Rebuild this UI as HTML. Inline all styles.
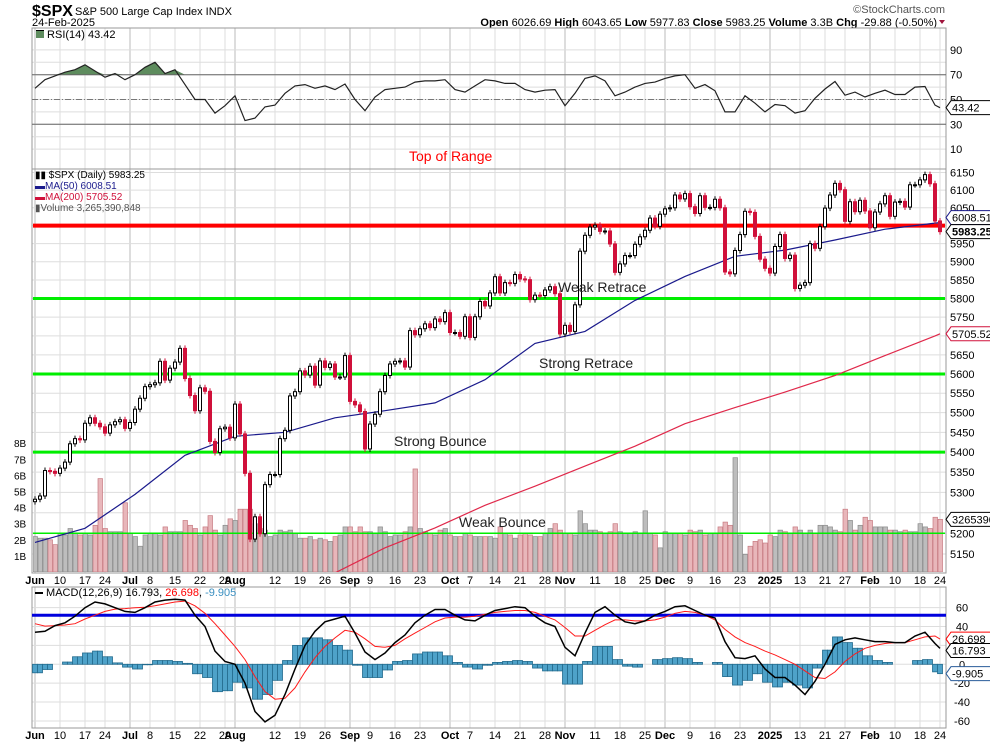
<!DOCTYPE html>
<html><head><meta charset="utf-8">
<style>
html,body{margin:0;padding:0;background:#fff;}
svg{display:block;font-family:"Liberation Sans",Arial,sans-serif;}
</style></head>
<body>
<svg id="chart" width="990" height="744" viewBox="0 0 990 744" xmlns="http://www.w3.org/2000/svg">
<rect x="0" y="0" width="990" height="744" fill="#fff"/>
<g>
<text x="32" y="16" font-size="16" font-weight="bold" fill="#000">$SPX</text>
<text x="75" y="15" font-size="11" fill="#000">S&amp;P 500 Large Cap Index  INDX</text>
<text x="32" y="26" font-size="11" fill="#000">24-Feb-2025</text>
<text x="945" y="13" font-size="11" fill="#555" text-anchor="end">©StockCharts.com</text>
<text x="937" y="26" font-size="11" fill="#000" text-anchor="end"><tspan font-weight="bold">Open</tspan> 6026.69  <tspan font-weight="bold">High</tspan> 6043.65  <tspan font-weight="bold">Low</tspan> 5977.83  <tspan font-weight="bold">Close</tspan> 5983.25  <tspan font-weight="bold">Volume</tspan> 3.3B  <tspan font-weight="bold">Chg</tspan> -29.88 (-0.50%)</text>
<polygon points="939,20 945,20 942,24" fill="#a0143c"/>
</g>
<g id="grid"></g>
<g id="panels"></g>
<defs><clipPath id="priceClip"><rect x="33" y="170" width="912" height="402"/></clipPath></defs>
<g id="vol" clip-path="url(#priceClip)"></g>
<g id="price" clip-path="url(#priceClip)"></g>
<g id="rsi"></g>
<g id="macd"></g>
<g id="annot"></g>
<g id="axes"></g>
</svg>
<script>
// ---------- data ----------
const closes = [
5283,5291,5354,5352,5347, 5360,5375,5421,5434,5431, 5473,5487,5473,5464,
5448,5469,5477,5482,5460, 5475,5509,5537,5567, 5572,5577,5633,5584,5615,
5631,5667,5588,5544,5505, 5564,5555,5427,5399,5459, 5463,5436,5522,5446,5347,
5186,5240,5199,5319,5344, 5344,5434,5455,5543,5554, 5608,5597,5620,5571,5634,
5617,5626,5592,5592,5648, 5529,5520,5503,5408, 5471,5496,5554,5596,5626,
5633,5634,5618,5714,5703, 5719,5732,5722,5745,5738, 5762,5709,5709,5699,5751,
5696,5751,5792,5780,5815, 5859,5815,5843,5841,5865, 5853,5851,5797,5809,5808,
5823,5832,5813,5705,5728, 5712,5783,5929,5973,5996, 6001,5984,5985,5949,5871,
5894,5917,5917,5948,5969, 5987,6021,5998,6032, 6047,6050,6086,6075,6090,
6053,6034,6084,6051,6051, 6074,6050,5872,5867,5931, 5975,6040,6037,5970,
5907,5882,5869,5942, 5975,5909,5918,5827, 5836,5843,5950,5937,5997,
6049,6086,6119,6101, 6012,6067,6039,6071,6041, 5994,6038,6061,6084,6026,
6066,6068,6052,6115,6115, 6129,6144,6118,6013, 5983.25];
const volumes = [
2.2,2.1,2.1,2.0,1.7, 2.4,2.3,2.7,2.4,2.3, 2.4,2.3,2.9,5.8,
2.7,2.5,2.5,2.5,4.3, 2.4,2.2,1.6,2.3, 2.4,2.4,2.3,2.8,2.5,
2.5,2.5,3.2,2.9,2.7, 2.3,2.8,3.5,2.6,2.3, 2.9,3.3,3.2,3.9,3.9,
3.9,3.0,2.7,2.6,2.2, 2.3,2.6,2.5,2.6,2.4, 2.1,2.1,2.2,2.0,2.1,
2.0,1.9,2.2,2.3,2.8, 2.8,2.5,2.8,2.5, 2.5,2.4,2.8,2.5,2.2,
2.3,2.3,2.5,2.8,6.4, 2.7,2.5,2.4,2.3,2.6, 2.7,2.3,2.2,2.2,2.4,
2.3,2.2,2.2,2.2,2.2, 2.1,2.8,2.4,2.3,2.1, 2.3,2.4,2.3,2.2,2.2,
2.4,2.7,3.0,2.6,2.4, 2.4,2.3,3.8,3.0,2.6, 2.6,2.5,2.4,2.5,3.0,
2.5,2.4,2.4,2.5,2.4, 3.8,2.4,2.3,1.5, 2.5,2.4,2.4,2.4,2.3,
2.6,2.5,2.6,2.3,2.4, 2.4,2.8,3.1,2.9,7.1, 2.3,1.1,1.6,1.9,
2.0,1.8,2.3,2.2, 2.6,2.5,2.4,2.8, 2.6,2.4,2.6,2.4,2.9,
2.9,2.8,2.6,2.5, 3.9,3.2,2.6,2.9,3.4, 3.2,2.8,2.8,2.8,2.6,
2.6,2.5,2.6,2.5,2.5, 3.0,2.8,2.7,3.4, 3.27];
const ma50Days = [0,10,20,30,40,50,60,70,80,90,100,110,120,130,140,150,160,170,180,181];
const ma50Vals = [5178,5212,5295,5392,5440,5450,5487,5505,5525,5585,5680,5712,5795,5860,5915,5932,5960,5990,6007,6008.51];
const ma200Days = [50,60,70,80,90,100,110,120,130,140,150,160,170,180,181];
const ma200Vals = [5055,5105,5165,5213,5268,5315,5365,5415,5472,5513,5553,5596,5648,5700,5705.52];
const rsiVals = [59,66,69,72,74,78,73,68,71,66, 70,76,80,71,74,62,50,50,39,45,
53,33,35,44,45.5,55,61,62,59,61, 58,62.5,50,41,52,58,59,60,64,65,
65,66,58,56,61,66,65,63,63,58, 56,57.5,58,45,55,67,69,65,53,56,
60,63,64,67,69,70,59,62,57,40, 40,53,47,40,46,45,39,41,51,58.5,
64.5,53.5,56,52,55,57.5,54,54,60,60.5, 45.5,43.42];
const macdVals = [34,35,41,44,51,60,66,64,60,56, 55,60,66,68,69,68,52,40,14,3,
0,-20,-50,-61,-54,-32,-5,20,35,45, 48,51,33,13,5,12,23,31,44,52,
58,58,52,47,46,52,57,59,61,60, 51,44,40,18,9,33,55,61,52,45,
43,46,52,56,61,62,57,52,49,24, 7,6,9,-5,-14,-14,-22,-32,-18,0,
21,26,28,26,24,24,23,23,30,34, 22,16.793];
const signalVals = [43,40.5,41,41.6,43,48,52,56,58.5,59, 60,60.5,62,64,66,67,62,54,43,31,
19,5,-13,-29,-37,-36,-25,-8,7,19, 28,36,34,27,19,18,20,27,33,39,
45,49,50,50,51,53,55,56,57,57, 55,51,47,39,30,30,36,42,47,47,
46,46,47,50,54,56,55,52,47,37, 29,23,19,14,10,5,0,-7,-14,-15,
-8,3,11,17,20,22,23,23,26,29, 30,26.698];
const priceTicks = [6150,6100,6050,5950,5900,5850,5800,5750,5650,5600,5550,5500,5450,5400,5350,5300,5200,5150];
const volTicks = [1,2,3,4,5,6,7,8];
const rsiTicks = [90,70,50,30,10];
const macdTicks = [60,40,0,-20,-40,-60];
const dateLabels = [[0,'Jun',1],[5,'10',0],[10,'17',0],[14,'24',0],[19,'Jul',1],[23,'8',0],[28,'15',0],[33,'22',0],[38,'29',0],[40,'Aug',1],[48,'12',0],[53,'19',0],[58,'26',0],[63,'Sep',1],[67,'9',0],[72,'16',0],[77,'23',0],[83,'Oct',1],[87,'7',0],[92,'14',0],[97,'21',0],[102,'28',0],[106,'Nov',1],[112,'11',0],[117,'18',0],[122,'25',0],[126,'Dec',1],[131,'9',0],[136,'16',0],[141,'23',0],[147,'2025',1],[153,'13',0],[158,'21',0],[162,'27',0],[167,'Feb',1],[172,'10',0],[177,'18',0],[181,'24',0]];
const levels = [6000,5800,5600,5400,5200];

const L=32,R=946;
const xOf=i=>35+5*i;
const yP=p=>298.5-2150*Math.log(p/5800);
const yV=v=>572-16.1*v;
const yR=v=>99.5-(v-50)*1.24;
const yM=v=>664.3-v*0.944;
const sampIdx=k=>Math.min(2*k,181);
const NS='http://www.w3.org/2000/svg';
function mk(parent,tag,attrs,text){const e=document.createElementNS(NS,tag);for(const k in attrs)e.setAttribute(k,attrs[k]);if(text!==undefined)e.textContent=text;document.getElementById(parent).appendChild(e);return e;}

const panels=[[28,169],[169,573],[587,728]];
panels.forEach(([t,b],n)=>{
  dateLabels.forEach(d=>{
    const g=mk('grid','line',{x1:xOf(d[0]),x2:xOf(d[0]),y1:t,y2:b,stroke:d[2]?'#bbb':'#ddd','stroke-width':1});
    
    
  });
});
for(let v=10;v<=90;v+=10){const g=mk('grid','line',{x1:L,x2:R,y1:yR(v),y2:yR(v),stroke:'#ddd'});}
for(let p=5150;p<=6150;p+=50){const g=mk('grid','line',{x1:L,x2:R,y1:yP(p),y2:yP(p),stroke:'#ddd'});}
for(let v=-60;v<=60;v+=20){const g=mk('grid','line',{x1:L,x2:R,y1:yM(v),y2:yM(v),stroke:'#ddd'});}
panels.forEach(([t,b],n)=>{
  const r=mk('panels','rect',{x:L,y:t,width:R-L,height:b-t,fill:'none',stroke:'#999','stroke-width':1});
  
  
});

volumes.forEach((v,i)=>{
  const down=i>0&&closes[i]<closes[i-1];
  const r=mk('vol','rect',{x:xOf(i)-2,y:yV(v),width:4.5,height:572-yV(v),fill:down?'#e8b6ba':'#bdbdbd',stroke:down?'#c77a80':'#8a8a8a','stroke-width':0.7});
  
  
});

levels.forEach((lv,n)=>{
  const l=mk('price','line',{x1:L,x2:R,y1:yP(lv),y2:yP(lv),stroke:n===0?'#ff0000':'#00ee00','stroke-width':n===0?4:(n===4?1.5:3)});
  
  
});

function poly(parent,days,vals,yf,color,w,name){
  const pts=days.map((d,k)=>xOf(d)+','+yf(vals[k]).toFixed(1)).join(' ');
  const p=mk(parent,'polyline',{points:pts,fill:'none',stroke:color,'stroke-width':w});
  
  
}
poly('price',ma50Days,ma50Vals,yP,'#1a1a8c',1.2,'ma50-line');
poly('price',ma200Days,ma200Vals,yP,'#e0284a',1.2,'ma200-line');

closes.forEach((c,i)=>{
  const o=i>0?closes[i-1]:c-6;
  const up=c>=o;
  const yt=yP(Math.max(o,c)),yb=yP(Math.min(o,c));
  const col=up?'#000':'#d0103a';
  const w=mk('price','line',{x1:xOf(i),x2:xOf(i),y1:yt-3,y2:yb+3,stroke:col,'stroke-width':1});
  
  
  const b=mk('price','rect',{x:xOf(i)-1.5,y:yt,width:3,height:Math.max(1,yb-yt),fill:up?'#fff':'#d0103a',stroke:col,'stroke-width':1});
  
  
});

{
  const y70=yR(70);
  let pts=rsiVals.map((v,k)=>xOf(sampIdx(k))+','+Math.min(yR(v),y70).toFixed(1));
  pts.push(xOf(181)+','+y70,xOf(0)+','+y70);
  const f=mk('rsi','polygon',{points:pts.join(' '),fill:'#5e8c5e',stroke:'none'});
  
  
  [[70,'#666',''],[30,'#666',''],[50,'#777','6,2,1,2']].forEach(([v,c,d])=>{
    const l=mk('rsi','line',{x1:L,x2:R,y1:yR(v),y2:yR(v),stroke:c,'stroke-dasharray':d});
    
    
  });
  const p=mk('rsi','polyline',{points:rsiVals.map((v,k)=>xOf(sampIdx(k))+','+yR(v).toFixed(1)).join(' '),fill:'none',stroke:'#222','stroke-width':1.2});
  
  
}

macdVals.forEach((m,k)=>{
  const h=m-signalVals[k];
  [sampIdx(k),sampIdx(k)+1].forEach(i=>{
    if(i>181||(k<macdVals.length-1&&i>=sampIdx(k+1)))return;
    const y0=yM(0),y1=yM(h);
    const r=mk('macd','rect',{x:xOf(i)-2.5,y:Math.min(y0,y1),width:5,height:Math.abs(y1-y0),fill:'#4ea2c9',stroke:'#236b8e','stroke-width':0.8});
    
    
  });
});
{
  const bl=mk('macd','line',{x1:L,x2:R,y1:yM(52),y2:yM(52),stroke:'#0000dd','stroke-width':3});
  
  
  const sp=mk('macd','polyline',{points:signalVals.map((v,k)=>xOf(sampIdx(k))+','+yM(v).toFixed(1)).join(' '),fill:'none',stroke:'#ff1a1a','stroke-width':1});
  
  
  const mp=mk('macd','polyline',{points:macdVals.map((v,k)=>xOf(sampIdx(k))+','+yM(v).toFixed(1)).join(' '),fill:'none',stroke:'#000','stroke-width':1.5});
  
  
}

function txt(parent,x,y,s,attrs){return mk(parent,'text',Object.assign({x:x,y:y,'font-size':11,fill:'#000'},attrs||{}),s);}
priceTicks.forEach(p=>{const t=txt('axes',950,yP(p)+4,String(p));});
volTicks.forEach(v=>{const t=txt('axes',14,yV(v)+4,v+'B',{'font-size':10});});
rsiTicks.forEach(v=>{const t=txt('axes',950,yR(v)+4,String(v));});
macdTicks.forEach(v=>{const t=txt('axes',962,yM(v)+4,String(v),{'text-anchor':'middle'});});
[580,735].forEach(yy=>{
  dateLabels.forEach(d=>{
    const t=txt('axes',xOf(d[0]),yy+4,d[1],{'text-anchor':'middle','font-weight':d[2]?'bold':'normal'});
    
    
  });
});

function tag(y,label,color,bold,name){
  const p=mk('axes','polygon',{points:`${R},${y} ${R+5},${y-7} ${R+52},${y-7} ${R+52},${y+7} ${R+5},${y+7}`,fill:'#fff',stroke:color,'stroke-width':1});
  
  
  const t=txt('axes',R+6,y+4,label,{'font-weight':bold?'bold':'normal',fill:'#000','font-size':11});
  
  
}
tag(yP(ma50Vals[ma50Vals.length-1])-5,'6008.51','#1a1a8c',false,'ma50-value-tag');
tag(yP(closes[181])+0,'5983.25','#000',true,'close-value-tag');
tag(yP(ma200Vals[ma200Vals.length-1]),'5705.52','#d0103a',false,'ma200-value-tag');
tag(yV(volumes[181]),'3265390','#000',false,'volume-value-tag');
tag(yR(rsiVals[rsiVals.length-1]),'43.42','#000',false,'rsi-value-tag');
tag(yM(signalVals[signalVals.length-1]),'26.698','#ff0000',false,'signal-value-tag');
tag(yM(macdVals[macdVals.length-1])+2,'16.793','#000',false,'macd-value-tag');
tag(yM(macdVals[macdVals.length-1]-signalVals[signalVals.length-1]),'-9.905','#2a5c9a',false,'histogram-value-tag');
</script>
<div style="position:absolute;left:0;top:0;width:990px;height:744px;pointer-events:none;font-family:'Liberation Sans',Arial,sans-serif;">
  <div style="position:absolute;left:36px;top:29px;font-size:11px;"><span style="display:inline-block;width:8px;height:7px;background:#5e8c5e;border-top:1px solid #000;"></span> RSI(14) 43.42</div>
  <div style="position:absolute;left:35px;top:170px;font-size:10px;line-height:11px;">
    <div>▮▮ $SPX (Daily) 5983.25</div>
    <div style="color:#1a1a8c;">▬MA(50) 6008.51</div>
    <div style="color:#d0103a;">▬MA(200) 5705.52</div>
    <div style="color:#555;">▮Volume 3,265,390,848</div>
  </div>
  <div style="position:absolute;left:35px;top:587px;font-size:11px;"><span style="display:inline-block;width:8px;height:2px;background:#000;vertical-align:middle;"></span> MACD(12,26,9) 16.793, <span style="color:#ff0000">26.698</span>, <span style="color:#3a8fc0">-9.905</span></div>
  <div style="position:absolute;left:409px;top:148px;font-size:14px;color:#ff0000;">Top of Range</div>
  <div style="position:absolute;left:558px;top:279px;font-size:14px;color:#222;">Weak Retrace</div>
  <div style="position:absolute;left:539px;top:355px;font-size:14px;color:#222;">Strong Retrace</div>
  <div style="position:absolute;left:394px;top:433px;font-size:14px;color:#222;">Strong Bounce</div>
  <div style="position:absolute;left:459px;top:514px;font-size:14px;color:#222;">Weak Bounce</div>
</div>
</body></html>
